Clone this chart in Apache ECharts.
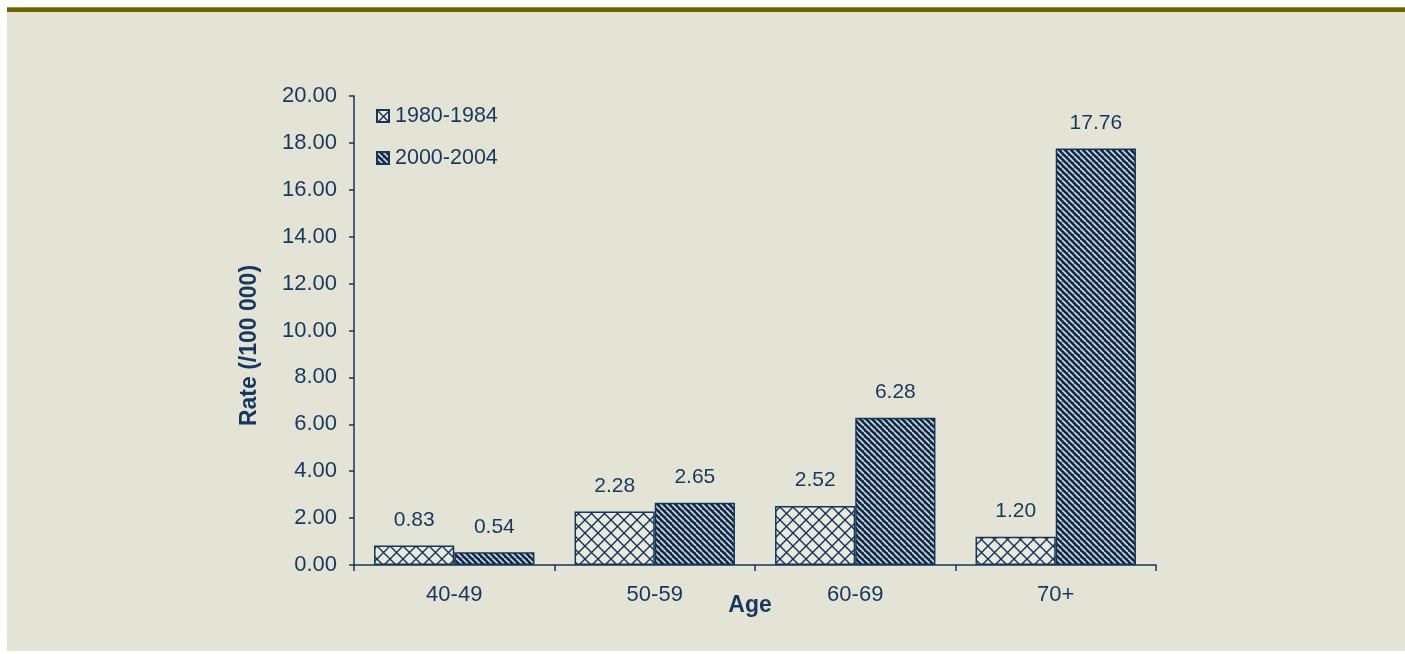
<!DOCTYPE html>
<html>
<head>
<meta charset="utf-8">
<script src="https://cdn.jsdelivr.net/npm/echarts@6/dist/echarts.min.js"></script>
<style>
html,body{margin:0;padding:0;background:#ffffff;}
#c{width:1405px;height:654px;}
</style>
</head>
<body>
<div id="c"></div>
<script>
const categories = ['40-49', '50-59', '60-69', '70+'];
const seriesNames = ['1980-1984', '2000-2004'];
const values1980 = [0.83, 2.28, 2.52, 1.20];
const values2000 = [0.54, 2.65, 6.28, 17.76];
const yTicks = [0, 2, 4, 6, 8, 10, 12, 14, 16, 18, 20];

const NAVY = '#14365a';
const TEXT = '#17375e';
const BG = '#e4e4d6';

function crossPattern() {
  const s = 13;
  const c = document.createElement('canvas');
  c.width = s; c.height = s;
  const g = c.getContext('2d');
  g.fillStyle = '#e9e9dd';
  g.fillRect(0, 0, s, s);
  g.strokeStyle = NAVY;
  g.lineWidth = 1.4;
  for (const k of [-s, 0, s]) {
    g.beginPath(); g.moveTo(0, k); g.lineTo(s, s + k); g.stroke();
    g.beginPath(); g.moveTo(0, s + k); g.lineTo(s, k); g.stroke();
  }
  return c;
}
function stripePattern() {
  const s = 6;
  const c = document.createElement('canvas');
  c.width = s; c.height = s;
  const g = c.getContext('2d');
  g.fillStyle = '#0e2b4a';
  g.fillRect(0, 0, s, s);
  g.strokeStyle = '#d3d8da';
  g.lineWidth = 1.6;
  for (const k of [-s, 0, s]) {
    g.beginPath(); g.moveTo(0, k); g.lineTo(s, s + k); g.stroke();
  }
  return c;
}

const chart = echarts.init(document.getElementById('c'), null, {renderer: 'canvas'});
const fontFamily = '"Liberation Sans", Arial, sans-serif';

const labelCfg = {
  show: true,
  position: 'top',
  distance: 15,
  color: TEXT,
  fontSize: 21,
  fontFamily: fontFamily,
  formatter: p => Number(p.value).toFixed(2)
};

chart.setOption({
  backgroundColor: 'transparent',
  animation: false,
  graphic: [
    {type: 'rect', shape: {x: 7, y: 10, width: 1398, height: 641}, style: {fill: BG}, z: -10},
    {type: 'rect', shape: {x: 7, y: 8, width: 1398, height: 4}, style: {fill: '#6a6400'}, z: -9},
    {type: 'rect', shape: {x: 7, y: 7, width: 1398, height: 1}, style: {fill: '#9a9440'}, z: -8}
  ],
  textStyle: {fontFamily: fontFamily},
  grid: {left: 354, right: 249, top: 96, bottom: 89, containLabel: false},
  legend: {
    orient: 'vertical',
    left: 376,
    top: 105,
    padding: 0,
    itemWidth: 12,
    itemHeight: 12,
    itemGap: 20,
    data: seriesNames,
    textStyle: {color: TEXT, fontSize: 21.5, fontFamily: fontFamily, padding: [0, 0, 0, 1]},
    icon: 'rect'
  },
  xAxis: {
    type: 'category',
    data: categories,
    name: 'Age',
    nameLocation: 'middle',
    nameGap: 29,
    nameMoveOverlap: false,
    nameTextStyle: {color: TEXT, fontSize: 23, fontWeight: 'bold', fontFamily: fontFamily, padding: [0, 10, 0, 0]},
    axisLine: {lineStyle: {color: NAVY, width: 1.5}},
    axisTick: {show: true, length: 6, lineStyle: {color: NAVY, width: 1.5}},
    axisLabel: {color: TEXT, fontSize: 22, margin: 19, fontFamily: fontFamily},
    splitLine: {show: false}
  },
  yAxis: {
    type: 'value',
    min: yTicks[0],
    max: yTicks[yTicks.length - 1],
    interval: 2,
    name: 'Rate (/100 000)',
    nameLocation: 'middle',
    nameGap: 93,
    nameMoveOverlap: false,
    nameTextStyle: {color: TEXT, fontSize: 23, fontWeight: 'bold', fontFamily: fontFamily, padding: [0, 30, 0, 0]},
    axisLine: {show: true, lineStyle: {color: NAVY, width: 1.5}},
    axisTick: {show: true, length: 5, lineStyle: {color: NAVY, width: 1.5}},
    axisLabel: {color: TEXT, fontSize: 22, margin: 17, fontFamily: fontFamily, formatter: v => v.toFixed(2)},
    splitLine: {show: false}
  },
  series: [
    {
      name: seriesNames[0],
      type: 'bar',
      data: values1980,
      barGap: '0%',
      barCategoryGap: '20%',
      itemStyle: {color: {image: crossPattern(), repeat: 'repeat'}, borderColor: NAVY, borderWidth: 1.5},
      label: labelCfg
    },
    {
      name: seriesNames[1],
      type: 'bar',
      data: values2000,
      barGap: '0%',
      barCategoryGap: '20%',
      itemStyle: {color: {image: stripePattern(), repeat: 'repeat'}, borderColor: NAVY, borderWidth: 1.5},
      label: labelCfg
    }
  ]
});
</script>
</body>
</html>
